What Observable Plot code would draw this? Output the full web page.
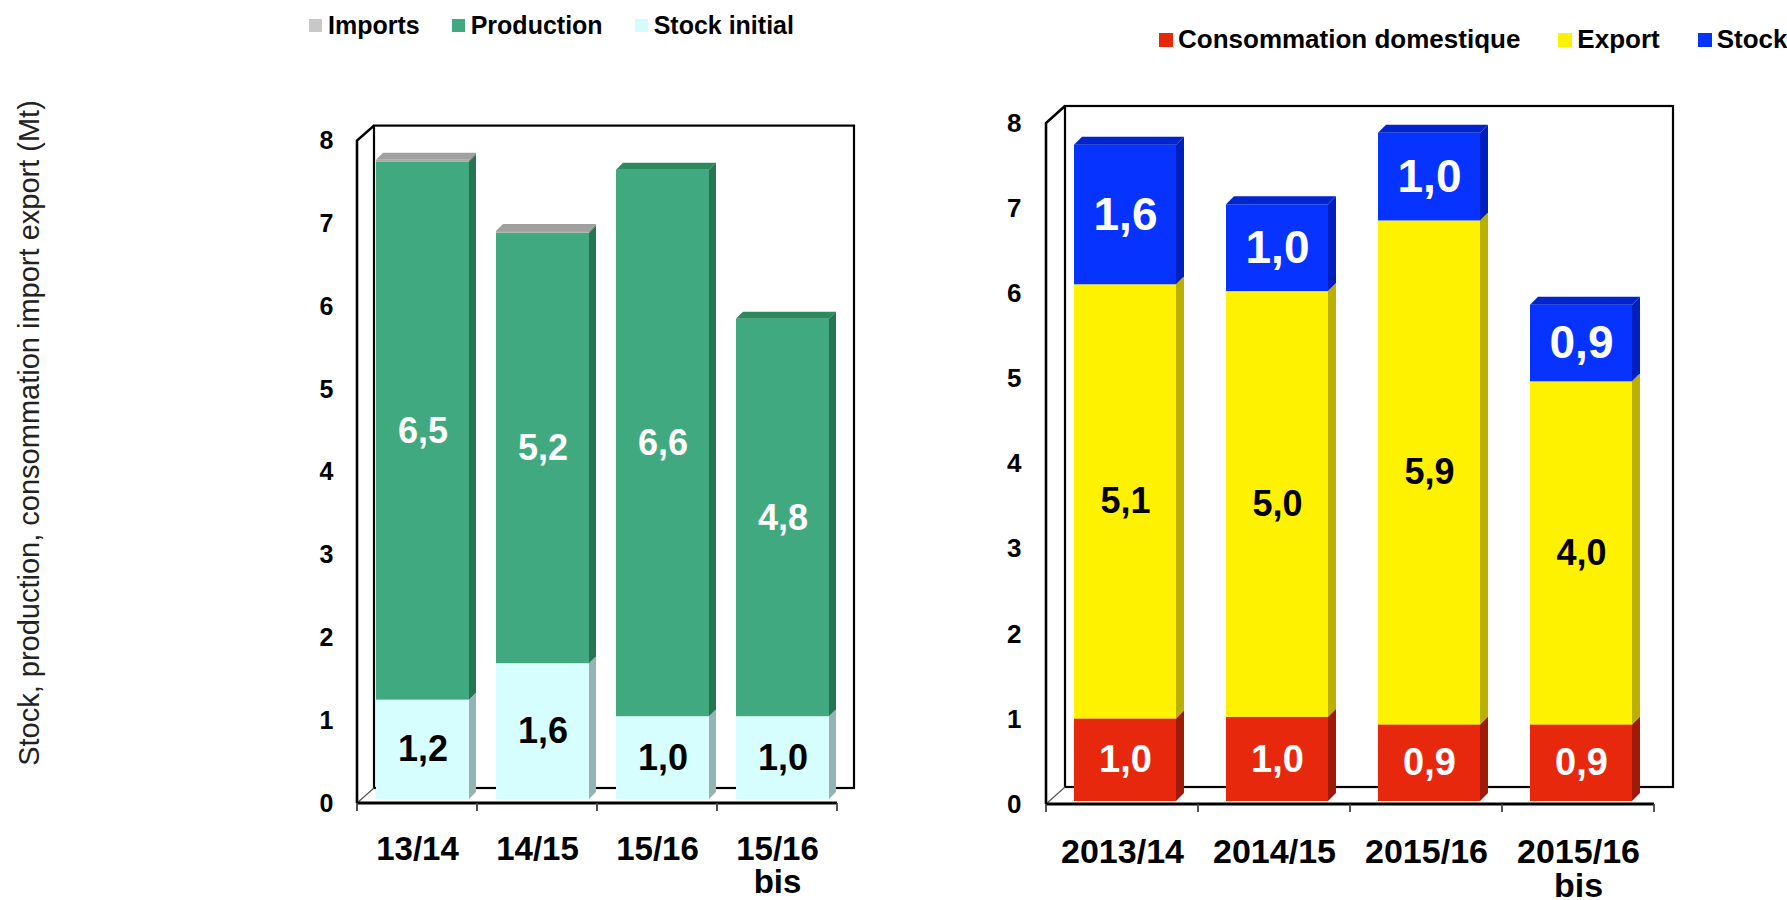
<!DOCTYPE html>
<html><head><meta charset="utf-8">
<script src="https://cdn.jsdelivr.net/npm/d3@7"></script>
<script src="https://cdn.jsdelivr.net/npm/@observablehq/plot@0.6"></script>
<style>
html,body{margin:0;padding:0;background:#fff;}
#root{position:relative;width:1787px;height:900px;overflow:hidden;font-family:"Liberation Sans",Arial,sans-serif;}
.legend{position:absolute;display:flex;align-items:center;font-weight:bold;color:#000;white-space:nowrap;}
.legend .item{display:flex;align-items:center;}
.legend .sw{display:inline-block;}
#ytitle{position:absolute;width:900px;text-align:center;font-size:29px;color:#222;transform:rotate(-90deg);transform-origin:center center;white-space:nowrap;}
.chart{position:absolute;top:0;}
.chart [aria-label^="y-axis"] text{font-weight:bold;}
.chart [aria-label^="x-axis"] text{font-weight:bold;}
#left [aria-label^="y-axis"] text{font-size:25px;}
#right [aria-label^="y-axis"] text{font-size:26px;}
#left [aria-label^="x-axis"] text{font-size:33px;}
#right [aria-label^="x-axis"] text{font-size:34px;}
</style></head><body><div id="root"></div>
<script>
// ---------------- data ----------------
const yTicks = [0, 1, 2, 3, 4, 5, 6, 7, 8];
const yTitle = "Stock, production, consommation import export (Mt)";

// left chart (bottom → top stacking)
const leftCategories = ["13/14", "14/15", "15/16", "15/16\nbis"];
const stockInitial = [1.2, 1.64, 1.0, 1.0];
const production = [6.5, 5.2, 6.6, 4.8];
const imports = [0.02, 0.02, 0, 0];
const leftLegend = ["Imports", "Production", "Stock initial"];

// right chart (bottom → top stacking)
const rightCategories = ["2013/14", "2014/15", "2015/16", "2015/16\nbis"];
const consommation = [0.97, 0.99, 0.9, 0.9];
const exportValues = [5.1, 5.0, 5.92, 4.03];
const stockFinal = [1.64, 1.02, 1.03, 0.9];
const rightLegend = ["Consommation domestique", "Export", "Stock final"];

// ---------------- styles ----------------
const leftStyles = [
  {name: "Stock initial", values: stockInitial, front: "#d6fefe", side: "#94b4b3", top: "#bfe3e3", label: "#000", size: 36, weight: "bold"},
  {name: "Production", values: production, front: "#41a97f", side: "#267451", top: "#2d8a5f", label: "#fff", size: 36, weight: "bold"},
  {name: "Imports", values: imports, front: "#a8a8a8", side: "#808080", top: "#a0a0a0", label: null}
];
const rightStyles = [
  {name: "Consommation domestique", values: consommation, front: "#e8280c", side: "#a01a08", top: "#c02008", label: "#fff", size: 38, weight: "bold"},
  {name: "Export", values: exportValues, front: "#fff200", side: "#bbaf00", top: "#d8cc00", label: "#000", size: 36, weight: "bold"},
  {name: "Stock final", values: stockFinal, front: "#0633ff", side: "#001fbf", top: "#0025cc", label: "#fff", size: 46, weight: "bold"}
];
const leftSwatch = {"Imports": "#c8c8c8", "Production": "#41a97f", "Stock initial": "#d4fcfc"};
const rightSwatch = {"Consommation domestique": "#e8280c", "Export": "#fff200", "Stock final": "#0633ff"};

const fmt = v => v.toFixed(1).replace(".", ",");

function buildRows(cats, styles) {
  const rows = [];
  cats.forEach((cat, i) => {
    let acc = 0;
    styles.forEach(s => {
      const v = s.values[i];
      rows.push({cat, key: s.name, value: v, y1: acc, y2: acc + v, s});
      acc += v;
    });
  });
  return rows;
}

function makeChart(cfg) {
  const {cats, styles, width, marginLeft, marginRight, marginTop, marginBottom,
         insetLeft, insetRight, barDy, depth, wall, tickPad, xPad} = cfg;
  const rows = buildRows(cats, styles);
  const yMax = d3.max(yTicks);

  const wallMark = (index, scales) => {
    const {x, y} = scales;
    const bw = x.bandwidth();
    const x0 = x(cats[0]), x1 = x(cats[cats.length - 1]) + bw;
    const y0 = y(0), yT = y(yMax);
    const [wx, wy] = wall;
    const g = d3.create("svg:g");
    g.append("rect").attr("x", x0 + wx).attr("y", yT + wy).attr("width", x1 - x0).attr("height", y0 - yT)
      .attr("fill", "#fff").attr("stroke", "#000").attr("stroke-width", 2.2);
    g.append("path").attr("d", `M${x0},${y0}L${x0},${yT}L${x0 + wx},${yT + wy}`)
      .attr("fill", "none").attr("stroke", "#000").attr("stroke-width", 2.6);
    g.append("path").attr("d", `M${x0},${y0}L${x0 + wx},${y0 + wy}`)
      .attr("fill", "none").attr("stroke", "#555").attr("stroke-width", 1.2);
    g.append("path").attr("d", `M${x0},${y0}L${x1},${y0}`)
      .attr("fill", "none").attr("stroke", "#000").attr("stroke-width", 2.8);
    const tickXs = cats.map(c => x(c)).concat([x1]);
    tickXs.forEach(tx => {
      g.append("line").attr("x1", tx).attr("x2", tx).attr("y1", y0).attr("y2", y0 + 8)
        .attr("stroke", "#444").attr("stroke-width", 1.8);
    });
    return g.node();
  };

  const facesMark = (index, scales) => {
    const {x, y} = scales;
    const bw = x.bandwidth();
    const g = d3.create("svg:g");
    cats.forEach(cat => {
      const rs = rows.filter(r => r.cat === cat && r.value > 0);
      const xl = x(cat) + insetLeft, xr = x(cat) + bw - insetRight;
      rs.forEach((r, k) => {
        const yTop = y(r.y2) + barDy, yBot = y(r.y1) + barDy;
        g.append("path").attr("d", `M${xr},${yBot}L${xr},${yTop}L${xr + depth},${yTop - depth}L${xr + depth},${yBot - depth}Z`)
          .attr("fill", r.s.side);
        if (k === rs.length - 1) {
          g.append("path").attr("d", `M${xl},${yTop}L${xl + depth},${yTop - depth}L${xr + depth},${yTop - depth}L${xr},${yTop}Z`)
            .attr("fill", r.s.top);
        }
      });
    });
    return g.node();
  };

  const labelDx = (insetLeft - insetRight) / 2;
  const textMarks = styles.filter(s => s.label).map(s =>
    Plot.text(rows.filter(r => r.key === s.name && r.value > 0), {
      x: "cat", y: d => (d.y1 + d.y2) / 2, text: d => fmt(d.value),
      fill: s.label, fontSize: s.size, fontWeight: s.weight, dx: labelDx, dy: barDy
    })
  );

  return Plot.plot({
    width, height: 900, marginLeft, marginRight, marginTop, marginBottom,
    style: {fontFamily: '"Liberation Sans", Arial, sans-serif', background: "transparent", color: "#000", overflow: "visible"},
    x: {domain: cats, padding: 0, tickSize: 0, tickPadding: xPad, label: null},
    y: {domain: [0, yMax], ticks: yTicks, tickSize: 0, tickPadding: tickPad, label: null, tickFormat: d => String(d)},
    color: {type: "identity"},
    marks: [
      wallMark,
      Plot.barY(rows.filter(r => r.value > 0), {x: "cat", y1: "y1", y2: "y2", fill: d => d.s.front,
        insetLeft, insetRight, dy: barDy}),
      facesMark,
      ...textMarks
    ]
  });
}

const root = document.getElementById("root");

const left = makeChart({cats: leftCategories, styles: leftStyles, width: 880,
  marginLeft: 355, marginRight: 42, marginTop: 140.6, marginBottom: 97,
  insetLeft: 19, insetRight: 8, barDy: -4, depth: 7, wall: [17, -15], tickPad: 22, xPad: 33});
left.id = "left"; left.classList.add("chart"); left.style.left = "0px";
root.appendChild(left);

const right = makeChart({cats: rightCategories, styles: rightStyles, width: 907,
  marginLeft: 165, marginRight: 133, marginTop: 123, marginBottom: 96,
  insetLeft: 28, insetRight: 22, barDy: -3, depth: 8, wall: [19, -17], tickPad: 24, xPad: 34});
right.id = "right"; right.classList.add("chart"); right.style.left = "880px";
root.appendChild(right);

// y title
const yt = document.createElement("div");
yt.id = "ytitle"; yt.textContent = yTitle;
yt.style.left = (29 - 450) + "px"; yt.style.top = (433 - 17) + "px"; yt.style.lineHeight = "34px";
root.appendChild(yt);

// legends
function legend(names, colors, left, top, fontSize, sw, gap, swGap) {
  const L = document.createElement("div");
  L.className = "legend"; L.style.left = left + "px"; L.style.top = top + "px";
  L.style.fontSize = fontSize + "px"; L.style.gap = gap + "px";
  names.forEach(n => {
    const it = document.createElement("div"); it.className = "item";
    const s = document.createElement("span"); s.className = "sw";
    s.style.width = sw + "px"; s.style.height = sw + "px"; s.style.background = colors[n]; s.style.marginRight = swGap + "px";
    const t = document.createElement("span"); t.textContent = n;
    it.appendChild(s); it.appendChild(t); L.appendChild(it);
  });
  root.appendChild(L);
}
legend(leftLegend, leftSwatch, 309, 11, 25, 13, 32, 6);
legend(rightLegend, rightSwatch, 1159, 24, 26, 14, 38, 5);
</script></body></html>
